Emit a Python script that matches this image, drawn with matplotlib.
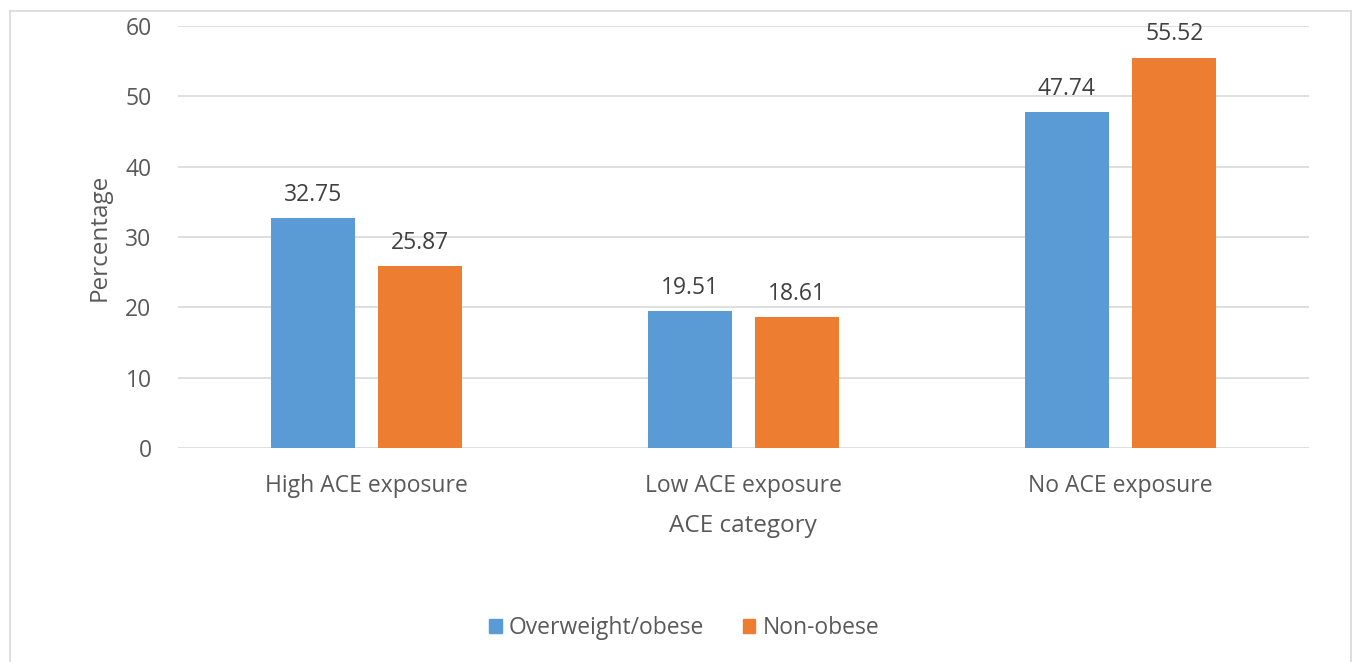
import numpy as np
import matplotlib.pyplot as plt
from matplotlib.lines import Line2D

categories = ['High ACE exposure', 'Low ACE exposure', 'No ACE exposure']
series_names = ['Overweight/obese', 'Non-obese']
overweight = [32.75, 19.51, 47.74]
non_obese = [25.87, 18.61, 55.52]
y_ticks = [0, 10, 20, 30, 40, 50, 60]

blue = '#5B9BD5'
orange = '#ED7D31'
text_col = '#595959'

plt.rcParams['font.family'] = ['Open Sans', 'DejaVu Sans']

fig = plt.figure(figsize=(13.54, 6.62), dpi=100)
ax = fig.add_axes([178 / 1354, 1 - 448 / 662, (1309 - 178) / 1354, (448 - 26) / 662])

x = np.arange(len(categories))
w = 0.223
off = 0.143
b1 = ax.bar(x - off, overweight, w, color=blue, zorder=3)
b2 = ax.bar(x + off, non_obese, w, color=orange, zorder=3)

for bars, vals in ((b1, overweight), (b2, non_obese)):
    for r, v in zip(bars, vals):
        ax.annotate(f'{v:.2f}', (r.get_x() + r.get_width() / 2, v),
                    xytext=(0, 8), textcoords='offset points',
                    ha='center', va='bottom', fontsize=16.5, color='#404040')

ax.set_xlim(-0.5, 2.5)
ax.set_ylim(0, 60)
ax.set_yticks(y_ticks)
ax.set_xticks(x)
ax.set_xticklabels(categories)
ax.tick_params(axis='both', length=0, labelsize=16.5, colors=text_col)
ax.tick_params(axis='x', pad=19)
ax.tick_params(axis='y', pad=19)
ax.grid(axis='y', color='#D9D9D9', linewidth=1.2, zorder=0)
for s in ax.spines.values():
    s.set_visible(False)

fig.text(100 / 1354, 1 - 237 / 662, 'Percentage', rotation=90, ha='center', va='center',
         fontsize=17.5, color=text_col)
fig.text(743 / 1354, 1 - 526 / 662, 'ACE category', ha='center', va='center',
         fontsize=17.5, color=text_col)

handles = [plt.Rectangle((0, 0), 1, 1, color=blue), plt.Rectangle((0, 0), 1, 1, color=orange)]
fig.legend(handles, series_names, loc='center', bbox_to_anchor=(684 / 1354, 1 - 628 / 662),
           ncol=2, frameon=False, fontsize=16.5, handlelength=0.55, handleheight=0.55,
           handletextpad=0.3, columnspacing=1.7, labelcolor=text_col)

# outer chart border
bc = '#D9D9D9'
fig.add_artist(Line2D([10 / 1354, 10 / 1354], [0, 1 - 11 / 662], color=bc, lw=1.2))
fig.add_artist(Line2D([10 / 1354, 1351 / 1354], [1 - 11 / 662, 1 - 11 / 662], color=bc, lw=1.2))
fig.add_artist(Line2D([1351 / 1354, 1351 / 1354], [0, 1 - 11 / 662], color=bc, lw=1.2))

fig.savefig('out.png', dpi=100)
